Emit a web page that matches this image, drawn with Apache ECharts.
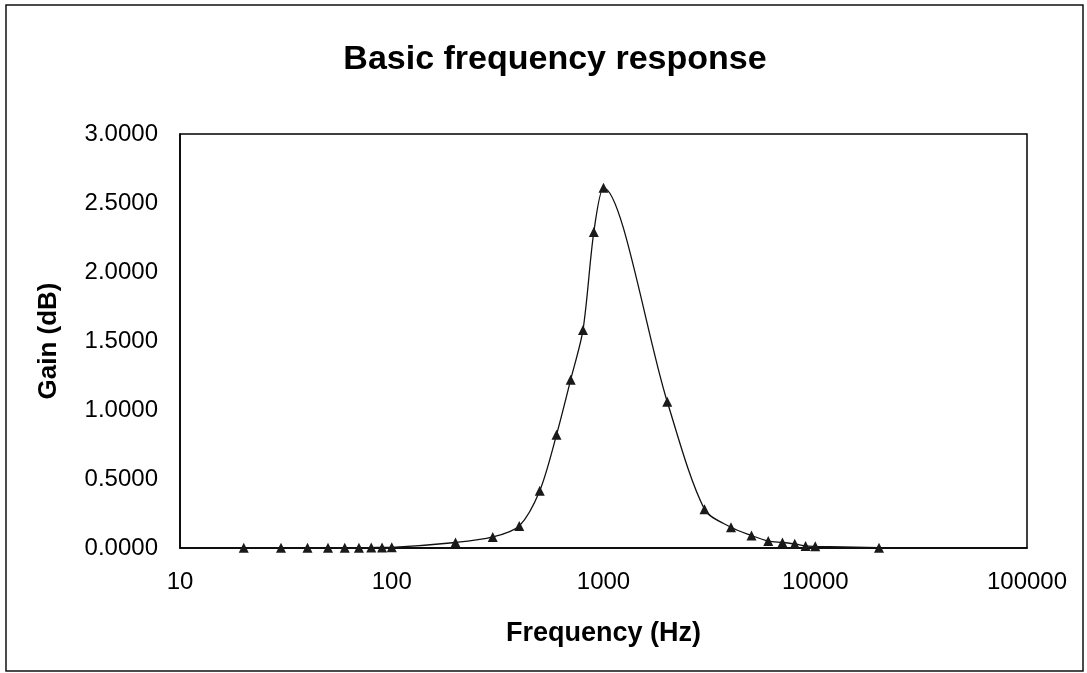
<!DOCTYPE html>
<html>
<head>
<meta charset="utf-8">
<title>Basic frequency response</title>
<script src="https://cdn.jsdelivr.net/npm/echarts@6/dist/echarts.min.js"></script>
<style>
    html, body { margin: 0; padding: 0; background: #fff; }
    #chart { width: 1087px; height: 673px; }
</style>
</head>
<body>
<div id="chart"></div>
<script>
const frequencies = [20, 30, 40, 50, 60, 70, 80, 90, 100, 200, 300, 400, 500, 600, 700, 800, 900, 1000,
    2000, 3000, 4000, 5000, 6000, 7000, 8000, 9000, 10000, 20000];
const gains = [0.002, 0.002, 0.002, 0.002, 0.002, 0.002, 0.003, 0.004, 0.005, 0.04, 0.08, 0.16, 0.415, 0.82, 1.22, 1.58, 2.29, 2.61,
    1.06, 0.28, 0.15, 0.09, 0.05, 0.04, 0.03, 0.015, 0.012, 0.002];
const xTicks = [10, 100, 1000, 10000, 100000];
const yTicks = [0, 0.5, 1, 1.5, 2, 2.5, 3];

const font = "'Liberation Sans', Arial, sans-serif";
const chart = echarts.init(document.getElementById('chart'));

chart.setOption({
    animation: false,
    backgroundColor: '#fff',
    title: {
        text: 'Basic frequency response',
        left: 550,
        textAlign: 'center',
        top: 38,
        textStyle: { fontFamily: font, fontSize: 34, fontWeight: 'bold', color: '#000' }
    },
    graphic: [{
        type: 'rect',
        shape: { x: 6, y: 5, width: 1077, height: 666 },
        style: { fill: 'none', stroke: '#111', lineWidth: 1.5 },
        silent: true
    }],
    grid: {
        left: 180, right: 60, top: 134, bottom: 125,
        show: true,
        borderColor: '#000',
        borderWidth: 1.5
    },
    xAxis: {
        type: 'log',
        logBase: 10,
        min: xTicks[0],
        max: xTicks[xTicks.length - 1],
        name: 'Frequency (Hz)',
        nameLocation: 'middle',
        nameGap: 72,
        nameTextStyle: { fontFamily: font, fontSize: 27, fontWeight: 'bold', color: '#000' },
        axisLine: { lineStyle: { color: '#000', width: 1.5 } },
        axisTick: { show: false },
        minorTick: { show: false },
        splitLine: { show: false },
        axisLabel: {
            margin: 22,
            fontFamily: font, fontSize: 24, color: '#000',
            formatter: v => String(Math.round(v))
        }
    },
    yAxis: {
        type: 'value',
        min: yTicks[0],
        max: yTicks[yTicks.length - 1],
        interval: 0.5,
        name: 'Gain (dB)',
        nameLocation: 'middle',
        nameGap: 118,
        nameRotate: 90,
        nameTextStyle: { fontFamily: font, fontSize: 26, fontWeight: 'bold', color: '#000' },
        axisLine: { show: true, lineStyle: { color: '#000', width: 1.5 } },
        axisTick: { show: false },
        splitLine: { show: false },
        axisLabel: {
            margin: 22,
            fontFamily: font, fontSize: 24, color: '#000',
            formatter: v => v.toFixed(4)
        }
    },
    series: [{
        type: 'line',
        data: frequencies.map((f, i) => [f, gains[i]]),
        smooth: 0.3,
        symbol: 'triangle',
        symbolSize: 10,
        itemStyle: { color: '#1a1a1a' },
        lineStyle: { color: '#111', width: 1.3 }
    }]
});
</script>
</body>
</html>
